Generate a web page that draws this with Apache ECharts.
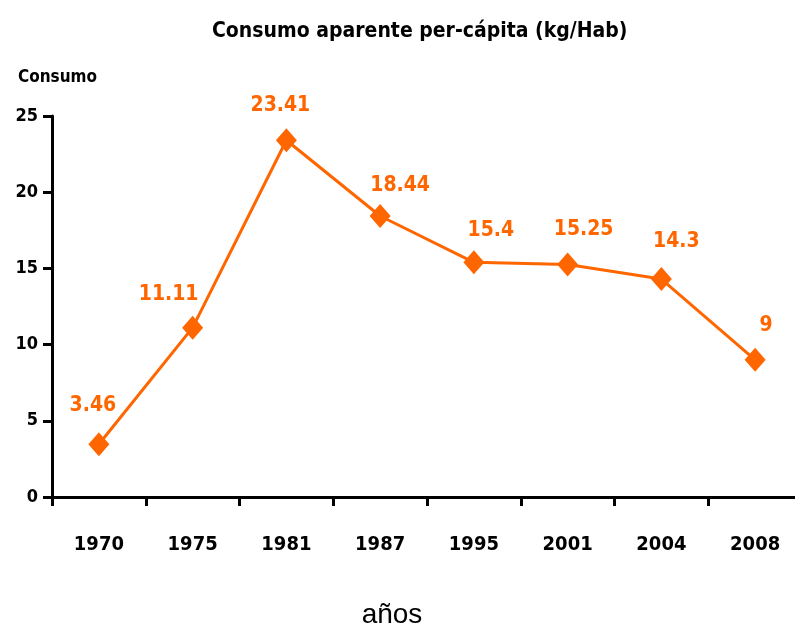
<!DOCTYPE html>
<html><head><meta charset="utf-8">
<script src="https://cdn.jsdelivr.net/npm/echarts@6/dist/echarts.min.js"></script>
<style>html,body{margin:0;padding:0;background:#fff}#c{width:795px;height:627px}</style>
</head><body><div id="c"></div>
<script>
const categories = ['1970','1975','1981','1987','1995','2001','2004','2008'];
const consumo = [3.46, 11.11, 23.41, 18.44, 15.4, 15.25, 14.3, 9];
const yTicks = {min: 0, max: 25, interval: 5};
// label offsets (px) relative to each marker, as placed in the reference
const labelOffsets = [[-6,-39],[-24,-33],[-6,-35],[20,-30],[17,-32],[16,-35],[15,-38],[11,-34]];
const NARROW = '"Liberation Sans Narrow","Arial Narrow","DejaVu Sans Condensed",sans-serif';
const chart = echarts.init(document.getElementById('c'));
chart.setOption({
  backgroundColor: '#fff',
  animation: false,
  title: {
    text: 'Consumo aparente per-cápita (kg/Hab)',
    left: 207, top: 16,
    textStyle: {fontFamily: NARROW, fontWeight: 'bold', fontSize: 21, color: '#000'}
  },
  grid: {left: 52, right: -7, top: 116, bottom: 130, outerBoundsMode: 'none', containLabel: false},
  xAxis: {
    type: 'category', data: categories, boundaryGap: true,
    name: 'años', nameLocation: 'middle', nameGap: 104,
    nameTextStyle: {fontFamily: '"Liberation Sans",Arial,sans-serif', fontSize: 28, color: '#000', padding: [0, 70, 0, 0]},
    axisLine: {lineStyle: {color: '#000', width: 3}},
    axisTick: {show: true, length: 9, lineStyle: {color: '#000', width: 3}},
    axisLabel: {fontFamily: NARROW, fontWeight: 'bold', fontSize: 20, color: '#000', margin: 38}
  },
  yAxis: {
    type: 'value', min: yTicks.min, max: yTicks.max, interval: yTicks.interval,
    name: 'Consumo', nameLocation: 'end', nameGap: 30,
    nameTextStyle: {fontFamily: NARROW, fontWeight: 'bold', fontSize: 17, color: '#000', align: 'left', padding: [0,0,0,-34]},
    axisLine: {show: true, lineStyle: {color: '#000', width: 3}},
    axisTick: {show: true, length: 9, lineStyle: {color: '#000', width: 3}},
    splitLine: {show: false},
    axisLabel: {fontFamily: NARROW, fontWeight: 'bold', fontSize: 18, color: '#000', margin: 14}
  },
  series: [{
    type: 'line',
    data: consumo.map((v, i) => ({value: v, label: {offset: labelOffsets[i]}})),
    symbol: 'diamond', symbolSize: [21, 24],
    lineStyle: {color: '#FF6600', width: 3},
    itemStyle: {color: '#FF6600'},
    label: {show: true, position: 'inside',
      fontFamily: NARROW, fontWeight: 'bold', fontSize: 21, color: '#FF6600'}
  }]
});
</script></body></html>
